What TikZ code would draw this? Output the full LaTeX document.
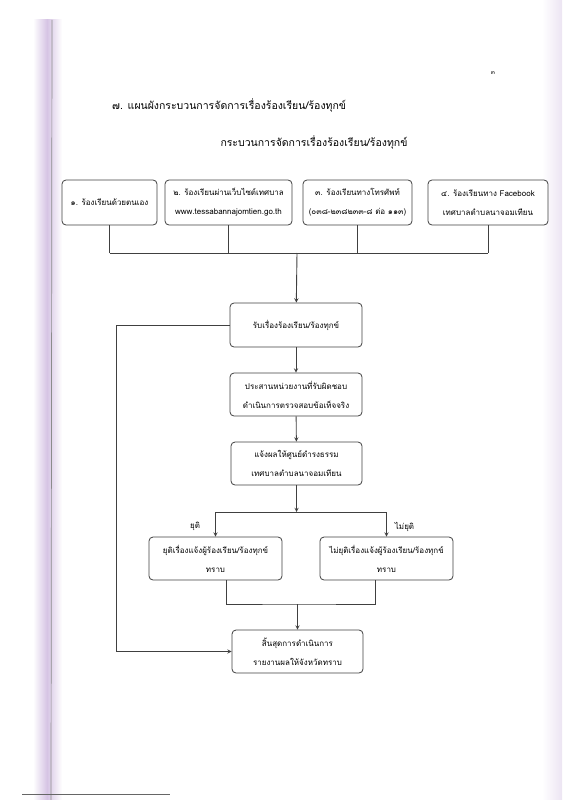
\documentclass[tikz,border=0pt]{standalone}
\usepackage{fontspec}
\setmainfont[Script=Thai]{Loma}
\usetikzlibrary{arrows}
\newcommand{\cmpfont}{\linespread{1}\fontsize{8}{19}\selectfont}
\newcommand{\cmptitlefont}{\linespread{1}\fontsize{10.5}{13}\selectfont}
\newcommand{\cmpsmallfont}{\linespread{1}\fontsize{6}{8}\selectfont}
\definecolor{scanlilac}{RGB}{214,196,228}
\tikzset{
    cmp/chart/.style={x=1pt, y=-1pt, font=\cmpfont, every node/.style={align=center}},
    cmp/box/.style={rectangle, rounded corners=4pt, draw=black!75, fill=white, line width=0.8pt, minimum height=43pt, inner sep=3pt},
    cmp/source/.style={cmp/box, minimum height=45pt},
    cmp/line/.style={line width=0.9pt, draw=black!75},
    cmp/arrow/.style={cmp/line, ->, >=stealth},
    cmp/label/.style={font=\cmpfont, inner sep=2pt},
    cmp/title/.style={font=\cmptitlefont, inner sep=0pt}
}
\begin{document}
\begin{tikzpicture}[cmp/chart]
    \useasboundingbox (0,0) rectangle (562,800);
    \shade[left color=white, right color=scanlilac] (33,20) rectangle (47,800);
    \shade[left color=scanlilac, right color=white] (47,20) rectangle (62,800);
    \draw[black!45, line width=0.7pt] (52,20) -- (51,800);
    \shade[left color=white, right color=scanlilac!45] (542,0) rectangle (562,800);
    \draw[black!60, line width=1pt] (22,794) -- (170,794);
    \node[font=\cmpsmallfont] (pageno) at (493,73) {๓};
    \node[cmp/title, anchor=west] (heading) at (112,105) {๗. แผนผังกระบวนการจัดการเรื่องร้องเรียน/ร้องทุกข์};
    \node[cmp/title] (subheading) at (314,142) {กระบวนการจัดการเรื่องร้องเรียน/ร้องทุกข์};
    \node[cmp/source, minimum width=95pt] (walkin) at (109.5,202.5) {๑. ร้องเรียนด้วยตนเอง};
    \node[cmp/source, minimum width=127pt] (website) at (228.5,202.5) {๒. ร้องเรียนผ่านเว็บไซต์เทศบาล\\www.tessabannajomtien.go.th};
    \node[cmp/source, minimum width=109pt] (phone) at (357.5,202.5) {๓. ร้องเรียนทางโทรศัพท์\\(๐๓๘-๒๓๘๒๓๓-๘ ต่อ ๑๑๓)};
    \node[cmp/source, minimum width=120pt] (facebook) at (488,202.5) {๔. ร้องเรียนทาง Facebook\\เทศบาลตำบลนาจอมเทียน};
    \node[cmp/box, minimum width=132pt, minimum height=44pt] (receive) at (296,325) {รับเรื่องร้องเรียน/ร้องทุกข์};
    \node[cmp/box, minimum width=132pt] (check) at (296,394.5) {ประสานหน่วยงานที่รับผิดชอบ\\ดำเนินการตรวจสอบข้อเท็จจริง};
    \node[cmp/box, minimum width=131pt] (notify) at (296.5,463.5) {แจ้งผลให้ศูนย์ดำรงธรรม\\เทศบาลตำบลนาจอมเทียน};
    \node[cmp/box, minimum width=133pt] (settled) at (215.5,558.5) {ยุติเรื่องแจ้งผู้ร้องเรียน/ร้องทุกข์\\ทราบ};
    \node[cmp/box, minimum width=133pt] (unsettled) at (386.5,558.5) {ไม่ยุติเรื่องแจ้งผู้ร้องเรียน/ร้องทุกข์\\ทราบ};
    \node[cmp/box, minimum width=131pt] (finish) at (297.5,651.5) {สิ้นสุดการดำเนินการ\\รายงานผลให้จังหวัดทราบ};
    \coordinate (bus) at (297,253);
    \coordinate (split) at (296.5,512);
    \coordinate (merge) at (297.5,604);
    \coordinate (loop) at (116,0);
    \foreach \source in {walkin,website,phone,facebook}
        \draw[cmp/line] (\source.south) -- (\source.south |- bus);
    \draw[cmp/line] (walkin.south |- bus) -- (facebook.south |- bus);
    \draw[cmp/arrow] (bus) -- (receive);
    \foreach \source/\target in {receive/check,check/notify,notify/split,merge/finish}
        \draw[cmp/arrow] (\source) -- (\target);
    \draw[cmp/arrow] (split) -| node[cmp/label, pos=0.8, left=13pt] {ยุติ} (settled);
    \draw[cmp/arrow] (split) -| node[cmp/label, pos=0.8, right=6pt] {ไม่ยุติ} (unsettled);
    \draw[cmp/line] ([xshift=10.5pt]settled.south) |- (merge) -| ([xshift=-11.5pt]unsettled.south);
    \draw[cmp/arrow] (receive.west) -| (loop |- finish.west) -- (finish.west);
\end{tikzpicture}
\end{document}
